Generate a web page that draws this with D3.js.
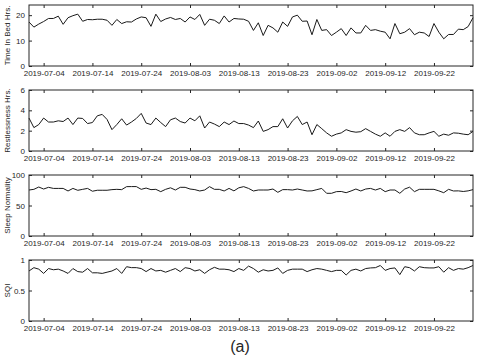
<!DOCTYPE html>
<html lang="en">
<head>
<meta charset="utf-8" />
<title>Sleep panels</title>
<script src="https://d3js.org/d3.v7.min.js"></script>
<style>
  body { margin: 0; background: #fff; }
  text { font-family: "Liberation Sans", Arial, sans-serif; fill: #262626; }
  .tick line { stroke: #262626; }
  .frame { fill: none; stroke: #262626; stroke-width: 1; }
  .series { fill: none; stroke: #1a1a1a; stroke-width: 1; }
</style>
</head>
<body>
<div id="chart"></div>
<script>
  // daily values, 2019-07-01 .. 2019-09-30
  var startDate = new Date(2019, 6, 1);
  var endDate = new Date(2019, 8, 30);
  var tickDates = ["2019-07-04", "2019-07-14", "2019-07-24", "2019-08-03", "2019-08-13",
                   "2019-08-23", "2019-09-02", "2019-09-12", "2019-09-22"];

  var timeInBed = [17.3, 15.3, 16.5, 17.5, 18.7, 18.7, 19.6, 16.4, 19.0, 19.8,
                   20.4, 17.6, 18.3, 18.2, 18.4, 18.4, 18.0, 16.0, 18.3, 16.7,
                   17.4, 17.3, 18.5, 19.3, 19.0, 15.6, 20.4, 17.5, 18.5, 19.1,
                   18.3, 18.7, 17.3, 19.3, 18.3, 20.3, 16.0, 18.4, 18.0, 16.7,
                   19.7, 17.3, 18.7, 18.5, 18.4, 17.6, 14.0, 17.0, 12.0, 16.0,
                   15.0, 13.3, 17.3, 15.6, 19.3, 20.0, 17.6, 17.7, 12.3, 18.3,
                   14.0, 14.3, 12.0, 13.3, 14.7, 12.0, 15.0, 13.0, 13.0, 16.0,
                   14.0, 14.3, 13.7, 13.3, 10.7, 16.7, 12.7, 13.3, 14.7, 12.3,
                   13.3, 13.0, 11.6, 16.7, 13.3, 10.7, 12.4, 12.4, 14.5, 14.3,
                   15.5, 19.0];

  var restlessness = [3.24, 2.3, 2.6, 3.24, 2.85, 2.85, 2.97, 2.9, 3.24, 2.6,
                      3.24, 3.2, 2.7, 2.8, 3.46, 3.6, 3.1, 2.1, 2.6, 3.17,
                      2.55, 2.85, 3.2, 3.7, 2.75, 2.6, 3.24, 2.8, 2.4, 3.07,
                      3.24, 2.9, 2.75, 3.24, 2.97, 3.46, 2.26, 2.85, 2.65, 2.4,
                      2.85, 2.6, 2.95, 2.7, 2.7, 2.55, 2.3, 2.95, 1.93, 2.1,
                      2.4, 2.4, 3.17, 2.26, 2.97, 3.4, 2.6, 2.85, 1.6, 2.6,
                      2.2, 1.78, 1.45, 1.66, 1.78, 2.1, 1.93, 1.85, 1.9, 2.2,
                      1.93, 1.66, 1.45, 1.78, 1.45, 1.93, 2.1, 1.93, 2.3, 1.78,
                      1.6, 1.6, 1.78, 1.93, 1.45, 1.66, 1.55, 1.78, 1.75, 1.66,
                      1.6, 1.93];

  var normality = [75.4, 76.5, 80.3, 77, 79.8, 78, 78, 78, 73.8, 78,
                   74.9, 76.5, 78, 73.4, 75, 75, 75, 76, 76.5, 76,
                   80.9, 81, 81, 76.5, 78.6, 76, 76.5, 72.7, 76.5, 79,
                   75.4, 79.8, 79.8, 77, 76, 73.8, 75.4, 80.9, 76.5, 76.5,
                   73.8, 78, 74, 79, 80.9, 78, 73.8, 75.4, 75.4, 75.4,
                   77, 71.6, 76, 76, 75.4, 77, 75.4, 73.8, 74, 76,
                   78, 70, 70, 72.7, 73, 71, 73.8, 77, 73.8, 77,
                   78, 75.4, 78, 72.7, 75.4, 75.4, 70, 77, 80, 72.7,
                   76.5, 76.5, 76.5, 76.5, 74, 71, 76.5, 73.8, 74, 73,
                   74, 76];

  var sqi = [0.82, 0.874, 0.85, 0.78, 0.86, 0.84, 0.85, 0.82, 0.78, 0.86,
             0.81, 0.80, 0.86, 0.79, 0.79, 0.78, 0.80, 0.82, 0.86, 0.78,
             0.89, 0.875, 0.875, 0.86, 0.81, 0.86, 0.82, 0.83, 0.80, 0.83,
             0.86, 0.81, 0.874, 0.86, 0.82, 0.84, 0.78, 0.84, 0.88, 0.85,
             0.85, 0.84, 0.81, 0.86, 0.83, 0.90, 0.86, 0.80, 0.84, 0.82,
             0.83, 0.87, 0.78, 0.83, 0.85, 0.85, 0.85, 0.81, 0.84, 0.86,
             0.85, 0.83, 0.81, 0.83, 0.83, 0.754, 0.83, 0.85, 0.82, 0.86,
             0.87, 0.874, 0.91, 0.83, 0.86, 0.87, 0.76, 0.89, 0.874, 0.82,
             0.89, 0.874, 0.87, 0.87, 0.89, 0.80, 0.874, 0.83, 0.86, 0.85,
             0.874, 0.91];

  var panels = [
    { label: "Time In Bed Hrs.", values: timeInBed, max: 24, ticks: [0, 10, 20], top: 5 },
    { label: "Restlessness Hrs.", values: restlessness, max: 6, ticks: [0, 2, 4, 6], top: 90 },
    { label: "Sleep Normality", values: normality, max: 100, ticks: [0, 50, 100], top: 175 },
    { label: "SQI", values: sqi, max: 1, ticks: [0, 0.5, 1], top: 260 }
  ];

  var width = 480, height = 359;
  var left = 29, right = 473, panelH = 61;

  var parse = d3.timeParse("%Y-%m-%d");
  var fmt = d3.timeFormat("%Y-%m-%d");

  var svg = d3.select("#chart").append("svg")
      .attr("width", width)
      .attr("height", height);

  var x = d3.scaleTime().domain([startDate, endDate]).range([left, right]);
  var ticks = tickDates.map(parse);

  panels.forEach(function (p) {
    var y = d3.scaleLinear().domain([0, p.max]).range([p.top + panelH, p.top]);
    var g = svg.append("g");

    var pts = p.values.map(function (v, i) {
      return { date: d3.timeDay.offset(startDate, i), v: v };
    });

    g.append("g")
        .attr("transform", "translate(0," + (p.top + panelH) + ")")
        .call(d3.axisBottom(x).tickValues(ticks).tickFormat(fmt)
              .tickSizeInner(-3).tickSizeOuter(0).tickPadding(4))
        .call(function (a) { a.select(".domain").remove(); })
        .selectAll("text").attr("font-size", 8);

    g.append("g")
        .attr("transform", "translate(0," + p.top + ")")
        .call(d3.axisTop(x).tickValues(ticks).tickFormat("")
              .tickSizeInner(-3).tickSizeOuter(0))
        .call(function (a) { a.select(".domain").remove(); });

    g.append("g")
        .attr("transform", "translate(" + left + ",0)")
        .call(d3.axisLeft(y).tickValues(p.ticks).tickFormat(d3.format("~g"))
              .tickSizeInner(-3).tickSizeOuter(0).tickPadding(4))
        .call(function (a) { a.select(".domain").remove(); })
        .selectAll("text").attr("font-size", 8);

    g.append("g")
        .attr("transform", "translate(" + right + ",0)")
        .call(d3.axisRight(y).tickValues(p.ticks).tickFormat("")
              .tickSizeInner(-3).tickSizeOuter(0))
        .call(function (a) { a.select(".domain").remove(); });

    g.append("path")
        .datum(pts)
        .attr("class", "series")
        .attr("d", d3.line()
            .x(function (d) { return x(d.date); })
            .y(function (d) { return y(d.v); }));

    g.append("rect")
        .attr("class", "frame")
        .attr("x", left)
        .attr("y", p.top)
        .attr("width", right - left)
        .attr("height", panelH);

    g.append("text")
        .attr("transform", "translate(10," + (p.top + panelH / 2) + ") rotate(-90)")
        .attr("text-anchor", "middle")
        .attr("font-size", 8)
        .text(p.label);
  });

  svg.append("text")
      .attr("x", width / 2)
      .attr("y", 352)
      .attr("text-anchor", "middle")
      .attr("font-size", 16)
      .text("(a)");
</script>
</body>
</html>
